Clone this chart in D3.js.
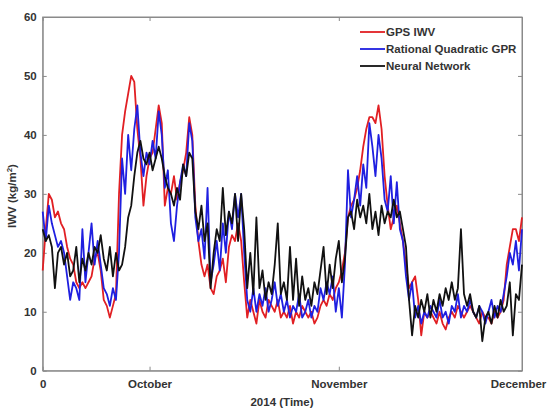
<!DOCTYPE html>
<html>
<head>
<meta charset="utf-8">
<script src="https://cdn.jsdelivr.net/npm/d3@7"></script>
<style>
body { margin: 0; background: #fff; }
text { font-family: "Liberation Sans", Arial, sans-serif; font-weight: bold; fill: #333; font-size: 11.5px; }
</style>
</head>
<body>
<svg width="548" height="411"></svg>
<script>
// IWV values, one every 12 hours from 13 Sep 2014 12:00
const gpsIwv = [
  17, 24, 30, 29, 26, 27, 25, 24, 21, 19,
  18, 15, 14, 15, 14, 15, 16, 19, 20, 17,
  12, 11, 9, 11, 13, 30, 40, 44, 47, 50,
  49, 41, 36, 28, 33, 36, 37, 41, 45, 42,
  28, 31, 30, 33, 29, 32, 34, 37, 43, 40,
  28, 22, 18, 16, 18, 14, 13, 16, 17, 19,
  15, 21, 23, 22, 25, 22, 15, 9, 12, 10,
  8, 12, 10, 9, 12, 11, 10, 12, 9, 10,
  9, 11, 8, 10, 9, 11, 10, 9, 10, 8,
  9, 11, 12, 11, 13, 12, 14, 15, 17, 20,
  26, 28, 29, 31, 34, 38, 41, 43, 43, 42,
  45, 41, 33, 28, 24, 26, 28, 25, 22, 18,
  14, 15, 16, 12, 6, 10, 9, 10, 9, 8,
  10, 8, 7, 9, 10, 9, 11, 10, 9, 10,
  11, 10, 9, 8, 10, 9, 9, 8, 10, 9,
  10, 12, 18, 21, 24, 24, 22, 26
];
const gprIwv = [
  27, 22, 28, 25, 23, 21, 22, 20, 16, 12,
  15, 14, 12, 24, 15, 20, 25, 18, 22, 18,
  14, 13, 11, 14, 12, 20, 36, 30, 40, 34,
  41, 45, 37, 33, 37, 35, 39, 36, 44, 40,
  31, 34, 25, 22, 28, 32, 35, 33, 42, 39,
  26, 22, 24, 19, 31, 15, 18, 22, 17, 25,
  20, 27, 24, 30, 26, 30, 20, 12, 10, 14,
  10, 13, 11, 14, 10, 12, 15, 11, 13, 10,
  12, 9, 11, 10, 13, 9, 10, 12, 9, 11,
  10, 14, 12, 15, 13, 16, 10, 14, 9, 18,
  34, 26, 29, 33, 28, 35, 31, 42, 38, 33,
  40, 36, 29, 27, 33, 25, 32, 24, 22, 16,
  12, 15, 9, 11, 8, 10, 9, 11, 10, 9,
  12, 9, 10, 8, 11, 10, 13, 9, 11, 10,
  12, 10, 9, 11, 10, 8, 10, 12, 9, 11,
  10, 13, 16, 20, 18, 22, 17, 24
];
const nnIwv = [
  24, 22, 23, 21, 14, 20, 21, 18, 20, 16,
  17, 21, 15, 19, 17, 20, 18, 21, 20, 23,
  19, 17, 21, 16, 20, 17, 18, 21, 26, 28,
  33, 37, 39, 36, 35, 37, 34, 36, 38, 36,
  33, 31, 30, 28, 31, 29, 35, 33, 37, 36,
  27, 24, 28, 22, 25, 14, 20, 24, 22, 31,
  23, 27, 25, 30, 22, 30, 24, 14, 20, 13,
  26, 14, 17, 12, 15, 13, 18, 25, 13, 15,
  12, 21, 12, 19, 11, 16, 12, 14, 11, 15,
  13, 17, 21, 13, 18, 14, 19, 22, 15, 19,
  26, 27, 24, 29, 26, 28, 25, 30, 24, 27,
  23, 28, 25, 27, 26, 29, 26, 27, 24, 21,
  12, 6, 11, 9, 12, 10, 13, 9, 12, 10,
  13, 11, 14, 12, 15, 12, 14, 24, 13, 11,
  13, 10, 9, 11, 5, 9, 10, 8, 11, 9,
  12, 10, 11, 15, 6, 13, 12, 18
];
const seriesNames = ["GPS IWV", "Rational Quadratic GPR", "Neural Network"];
const xTickLabels = ["0", "October", "November", "December"];
const yTicks = [0, 10, 20, 30, 40, 50, 60];

const svg = d3.select("svg");
const plotLeft = 42.7, plotRight = 522, plotTop = 17, plotBottom = 370.7;

const start = new Date(2014, 8, 13, 12);
const end = new Date(2014, 11, 1);
const xTicks = [start, new Date(2014, 9, 1), new Date(2014, 10, 1), end];

const x = d3.scaleTime().domain([start, end]).range([plotLeft, plotRight]);
const y = d3.scaleLinear().domain([0, 60]).range([plotBottom, plotTop]);
const times = gpsIwv.map((d, i) => new Date(start.getTime() + i * 12 * 3600 * 1000));

// frame
svg.append("rect")
  .attr("x", plotLeft).attr("y", plotTop)
  .attr("width", plotRight - plotLeft).attr("height", plotBottom - plotTop)
  .attr("fill", "none").attr("stroke", "#8a8a8a");

// axes with inward ticks
function styleAxis(g) {
  g.select(".domain").attr("stroke", "#8a8a8a");
  g.selectAll(".tick line").attr("stroke", "#8a8a8a");
}
svg.append("g")
  .attr("transform", `translate(0,${plotBottom})`)
  .call(d3.axisBottom(x).tickValues(xTicks).tickFormat((d, i) => xTickLabels[i])
    .tickSizeInner(-4).tickSizeOuter(0).tickPadding(9))
  .call(styleAxis)
  .call(g => g.selectAll(".tick text").filter((d, i) => i === 3).attr("dx", -4));
svg.append("g")
  .attr("transform", `translate(0,${plotTop})`)
  .call(d3.axisTop(x).tickValues(xTicks).tickFormat("").tickSizeInner(-4).tickSizeOuter(0))
  .call(styleAxis);
svg.append("g")
  .attr("transform", `translate(${plotLeft},0)`)
  .call(d3.axisLeft(y).tickValues(yTicks).tickSizeInner(-4).tickSizeOuter(0).tickPadding(6))
  .call(styleAxis);
svg.append("g")
  .attr("transform", `translate(${plotRight},0)`)
  .call(d3.axisRight(y).tickValues(yTicks).tickFormat("").tickSizeInner(-4).tickSizeOuter(0))
  .call(styleAxis);

// series
const colors = ["#e11f23", "#1f1fe0", "#111111"];
const line = d3.line().x((d, i) => x(times[i])).y(d => y(d));
[gpsIwv, gprIwv, nnIwv].forEach((s, k) => {
  svg.append("path")
    .datum(s)
    .attr("d", line)
    .attr("fill", "none")
    .attr("stroke", colors[k])
    .attr("stroke-width", 1.8)
    .attr("stroke-linejoin", "round");
});

// legend
seriesNames.forEach((name, k) => {
  const ly = 32 + k * 17;
  svg.append("line")
    .attr("x1", 360).attr("x2", 385)
    .attr("y1", ly).attr("y2", ly)
    .attr("stroke", colors[k]).attr("stroke-width", 1.8);
  svg.append("text")
    .attr("x", 386).attr("y", ly)
    .attr("dy", "0.35em")
    .text(name);
});

// axis titles
svg.append("text")
  .attr("x", 282).attr("y", 406)
  .attr("text-anchor", "middle")
  .text("2014 (Time)");

const yTitle = svg.append("text")
  .attr("transform", "translate(16,196) rotate(-90)")
  .attr("text-anchor", "middle");
yTitle.append("tspan").text("IWV (kg/m");
yTitle.append("tspan").attr("baseline-shift", "super").attr("font-size", "8px").text("2");
yTitle.append("tspan").text(")");
</script>
</body>
</html>
